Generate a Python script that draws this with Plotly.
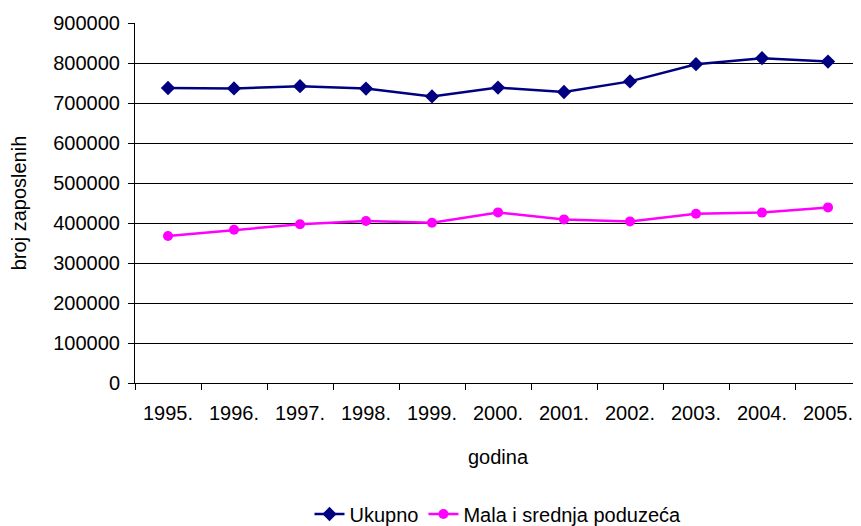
import plotly.graph_objects as go

years = ["1995.", "1996.", "1997.", "1998.", "1999.", "2000.", "2001.", "2002.", "2003.", "2004.", "2005."]
ukupno = [737500, 736500, 742000, 736000, 716500, 738500, 727500, 754000, 797000, 812000, 803500]
msp = [367500, 383000, 397000, 405000, 400500, 426500, 409000, 404000, 423000, 426000, 439000]
y_ticks = [0, 100000, 200000, 300000, 400000, 500000, 600000, 700000, 800000, 900000]

FONT = "Liberation Sans, Arial, sans-serif"
FS = 20
# page body has an 8px default margin; figure sized so it fits the 861x526 window
W, H = 853, 518

fig = go.Figure()
fig.add_trace(go.Scatter(
    x=years, y=ukupno, name="Ukupno", mode="lines+markers",
    line=dict(color="#000080", width=2.5),
    marker=dict(symbol="diamond", size=11, color="#000080"),
))
fig.add_trace(go.Scatter(
    x=years, y=msp, name="Mala i srednja poduzeća", mode="lines+markers",
    line=dict(color="#FF00FF", width=2.5),
    marker=dict(symbol="circle", size=10, color="#FF00FF"),
))

fig.update_layout(
    width=W, height=H,
    margin=dict(l=127, r=0, t=15, b=143, autoexpand=False),
    paper_bgcolor="white", plot_bgcolor="white",
    font=dict(family=FONT, size=FS, color="black"),
    showlegend=True,
    legend=dict(orientation="h", x=0.5, xanchor="center",
                yref="container", y=12 / H, yanchor="middle",
                font=dict(size=FS), itemwidth=30, tracegroupgap=0),
    xaxis=dict(
        type="category", range=[-0.5, 10.5], tickson="boundaries",
        ticks="outside", ticklen=6, tickcolor="black",
        showline=True, linecolor="black", linewidth=1,
        showgrid=False, zeroline=False, automargin=False,
        tickfont=dict(size=FS), ticklabelstandoff=12,
        title=dict(text="godina", font=dict(size=FS), standoff=26),
    ),
    yaxis=dict(
        range=[0, 900000], tickvals=y_ticks, ticktext=[str(v) for v in y_ticks],
        ticks="outside", ticklen=6, tickcolor="black",
        showline=True, linecolor="black", linewidth=1,
        showgrid=True, gridcolor="black", gridwidth=1,
        zeroline=False, automargin=False,
        tickfont=dict(size=FS), ticklabelstandoff=4,
        title=dict(text="broj zaposlenih", font=dict(size=FS), standoff=24),
    ),
)

fig.write_html("out.html")
